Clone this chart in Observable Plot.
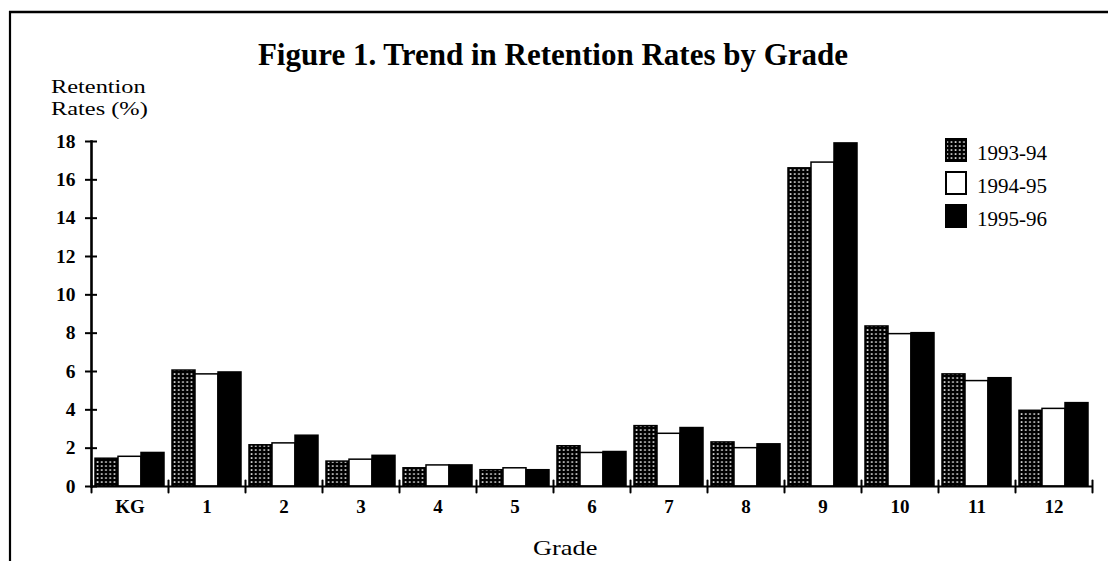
<!DOCTYPE html>
<html><head><meta charset="utf-8">
<script src="https://cdn.jsdelivr.net/npm/d3@7"></script>
<script src="https://cdn.jsdelivr.net/npm/@observablehq/plot@0.6"></script>
<style>
html,body{margin:0;padding:0;background:#fff;}
#wrap{position:relative;width:1111px;height:561px;overflow:hidden;background:#fff;}
#wrap svg{position:absolute;left:0;top:0;}
#wrap svg text{font-family:'Liberation Serif','Times New Roman',serif;}
</style></head><body>
<svg width="0" height="0" style="position:absolute">
  <defs>
    <pattern id="dots" patternUnits="userSpaceOnUse" width="4.2" height="4">
      <rect width="4.2" height="4" fill="#000"/>
      <rect x="1.4" y="1.3" width="1.6" height="1.5" fill="#fff"/>
    </pattern>
  </defs>
</svg>
<div id="wrap"></div>
<script>
// ---- data ----
const grades = ["KG","1","2","3","4","5","6","7","8","9","10","11","12"];
const years = ["1993-94","1994-95","1995-96"];
const rates9394 = [1.45,6.05,2.15,1.3,0.95,0.85,2.1,3.15,2.3,16.6,8.35,5.85,3.95];
const rates9495 = [1.55,5.85,2.25,1.4,1.1,0.95,1.75,2.75,2.0,16.9,7.95,5.5,4.05];
const rates9596 = [1.75,5.95,2.65,1.6,1.1,0.85,1.8,3.05,2.2,17.9,8.0,5.65,4.35];
const yTicks = [0,2,4,6,8,10,12,14,16,18];
const titleText = "Figure 1. Trend in Retention Rates by Grade";
const yLabelLines = ["Retention","Rates (%)"];
const xLabelText = "Grade";
const yearFills = ["url(#dots)","#fff","#000"];

const series = [rates9394, rates9495, rates9596];
const data = grades.flatMap((g,i)=>years.map((y,j)=>({grade:g, year:y, rate:series[j][i]})));

const tickShape = {draw(context, l){ context.moveTo(0,0); context.lineTo(0,-l); }};
const serif = "'Liberation Serif','Times New Roman',serif";

const chart = Plot.plot({
  width: 1111, height: 561,
  marginLeft: 88, marginRight: 17, marginTop: 141, marginBottom: 75,
  style: {background: "transparent", fontFamily: serif, color: "#000"},
  fx: {domain: grades, padding: 0, label: null},
  x: {domain: years, paddingInner: 0, paddingOuter: 0.135, axis: null},
  y: {domain: [0, 18], label: null},
  color: {domain: years, range: yearFills},
  marks: [
    Plot.barY(data, {fx: "grade", x: "year", y: "rate", fill: "year", stroke: "#000", strokeWidth: 1.5}),
    Plot.ruleY([0], {stroke: "#000", strokeWidth: 2}),
    Plot.frame({anchor: "left", facetAnchor: "left", stroke: "#000", strokeWidth: 2.6}),
    Plot.vector(grades, {fx: d => d, frameAnchor: "bottom-left", length: 12, anchor: "middle", shape: tickShape, stroke: "#000", strokeWidth: 2}),
    Plot.vector(grades.slice(-1), {fx: d => d, frameAnchor: "bottom-right", length: 12, anchor: "middle", shape: tickShape, stroke: "#000", strokeWidth: 2}),
    Plot.axisY({ticks: yTicks, tickSize: 12, dx: 6, tickPadding: 10, fontSize: 19.5, fontWeight: "bold", strokeWidth: 2, label: null}),
    Plot.axisFx({anchor: "bottom", tickSize: 0, tickPadding: 13, fontSize: 19, fontWeight: "bold", label: null})
  ]
});
const wrap = document.getElementById("wrap");
wrap.appendChild(chart);

// ---- overlay: border, title, axis titles, legend ----
const ov = d3.select(wrap).append("svg")
  .attr("width", 1111).attr("height", 561)
  .style("font-family", serif);
ov.append("line").attr("x1", 9).attr("x2", 1108).attr("y1", 12).attr("y2", 12).attr("stroke", "#000").attr("stroke-width", 2.3);
ov.append("line").attr("x1", 10).attr("x2", 10).attr("y1", 11).attr("y2", 561).attr("stroke", "#000").attr("stroke-width", 2.2);

ov.append("text").attr("x", 553).attr("y", 65).attr("text-anchor", "middle")
  .attr("font-family", serif).attr("font-size", 31).attr("font-weight", "bold").text(titleText);

yLabelLines.forEach((t, i) => {
  ov.append("text").attr("transform", `translate(51,${93 + i*22}) scale(1.25,1)`)
    .attr("font-family", serif).attr("font-size", 19.5).text(t);
});
ov.append("text").attr("transform", "translate(533,555) scale(1.2,1)")
  .attr("font-family", serif).attr("font-size", 22).text(xLabelText);

const lg = ov.append("g");
years.forEach((yr, i) => {
  const y0 = 139 + i*33;
  lg.append("rect").attr("x", 946).attr("y", y0).attr("width", 20).attr("height", 22)
    .attr("fill", yearFills[i]).attr("stroke", "#000").attr("stroke-width", 2);
  lg.append("text").attr("x", 977).attr("y", y0 + 21)
    .attr("font-family", serif).attr("font-size", 21).text(yr);
});
</script>
</body></html>
